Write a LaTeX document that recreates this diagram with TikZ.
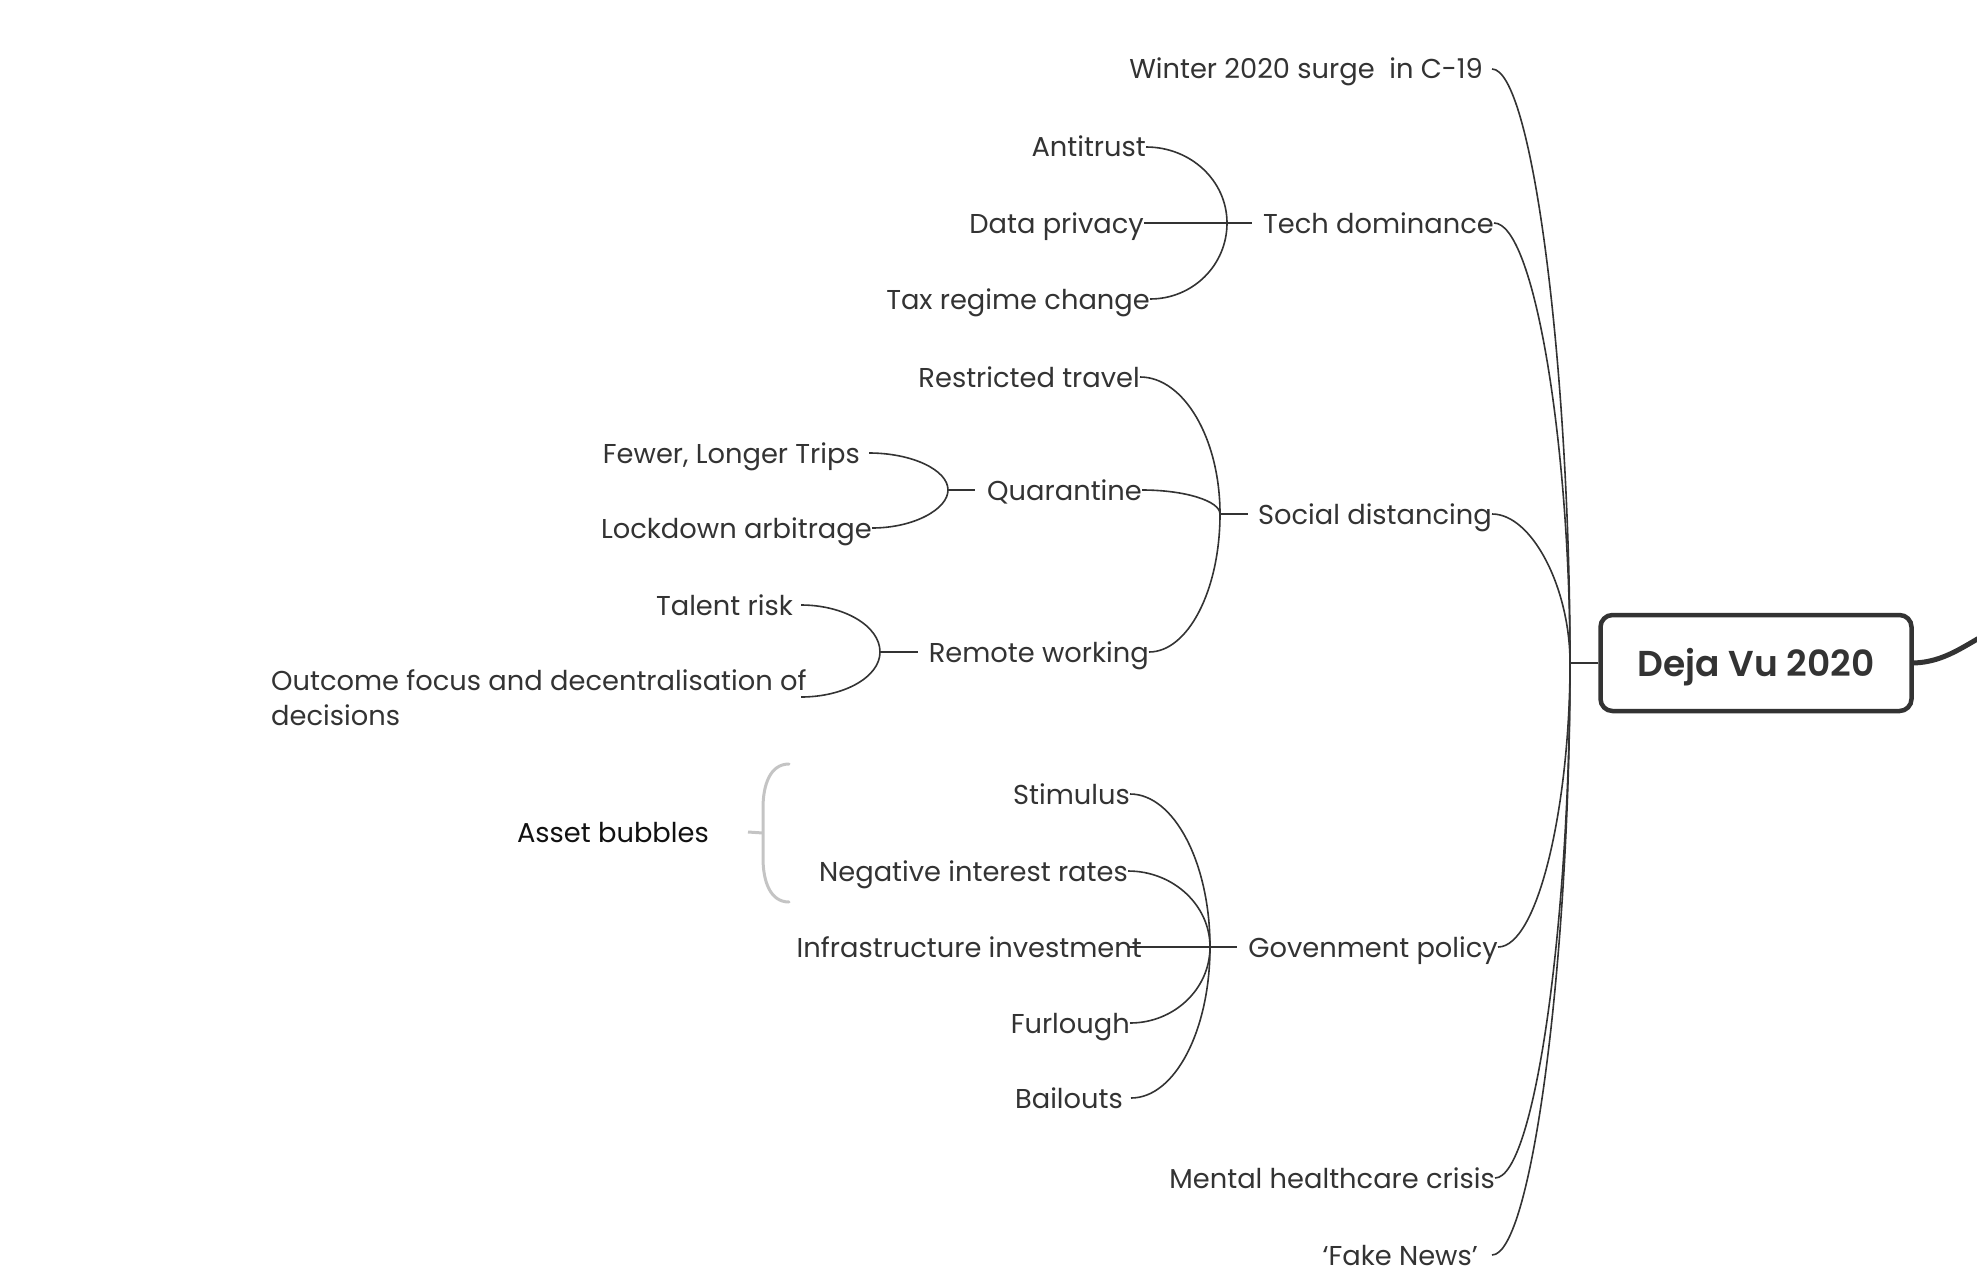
\documentclass[tikz,border=0pt]{standalone}
\usepackage{fontspec}
\setmainfont{Poppins}
\newfontfamily\rootfont{Poppins SemiBold}
\definecolor{ink}{HTML}{333333}
\definecolor{brk}{HTML}{C4C4C4}
\definecolor{dark}{HTML}{111111}
\begin{document}
\begin{tikzpicture}[x=1pt,y=-1pt,
  txt/.style={inner sep=0pt, text=ink, font=\fontsize{27.3}{35}\selectfont, text height=20pt, text depth=0pt, anchor=east},
  lnk/.style={draw=ink, line width=1.6pt},
]
\useasboundingbox (0,0) rectangle (1977,1287);
% root
\node[draw=ink, line width=4.5pt, rounded corners=12pt, minimum width=311pt, minimum height=96pt,
      text=ink, text height=26pt, text depth=0pt, font=\fontsize{36}{40}\rootfont] (root) at (1756,663) {Deja Vu 2020};
\coordinate (hub) at (1570,663);
\coordinate (tail) at (1990,632);
\draw[lnk] (root.west) -- (hub);
\draw[draw=ink, line width=5pt] (root.east) .. controls (1945,662) and (1965,645) .. (tail);

% level 1
\node[txt] (winter) at (1483,69) {Winter 2020 surge\ \ in C-19};
\node[txt] (tech) at (1494,223) {Tech dominance};
\node[txt] (social) at (1492,514) {Social distancing};
\node[txt] (gov) at (1498,947) {Govenment policy};
\node[txt] (mental) at (1495,1178) {Mental healthcare crisis};
\node[txt] (fake) at (1478,1255) {‘Fake News’};

\draw[lnk] (hub) .. controls (1570,366) and (1532,69) .. ([xshift=9pt]winter.east);
\draw[lnk] (hub) .. controls (1570,443) and (1534,223) .. (tech.east);
\draw[lnk] (hub) .. controls (1570,588) and (1532,514) .. (social.east);
\draw[lnk] (hub) .. controls (1570,805) and (1538,947) .. (gov.east);
\draw[lnk] (hub) .. controls (1570,920) and (1535,1178) .. (mental.east);
\draw[lnk] (hub) .. controls (1570,958) and (1532,1255) .. ([xshift=14pt]fake.east);

% tech group
\coordinate (tj) at (1227,223);
\node[txt] (anti) at (1146,147) {Antitrust};
\node[txt] (priv) at (1144,223) {Data privacy};
\node[txt] (tax) at (1150,299) {Tax regime change};
\draw[lnk] (tj) -- ([xshift=-11pt]tech.west);
\draw[lnk] (tj) .. controls (1227,181) and (1191,147) .. (anti.east);
\draw[lnk] (priv.east) -- (tj);
\draw[lnk] (tj) .. controls (1227,265) and (1193,299) .. (tax.east);

% social group
\coordinate (sj) at (1220,514);
\node[txt] (travel) at (1140,377) {Restricted travel};
\node[txt] (quar) at (1142,490) {Quarantine};
\node[txt] (remote) at (1149,652) {Remote working};
\draw[lnk] (sj) -- ([xshift=-10pt]social.west);
\draw[lnk] (sj) .. controls (1220,439) and (1184,377) .. (travel.east);
\draw[lnk] (sj) .. controls (1220,501) and (1185,490) .. (quar.east);
\draw[lnk] (sj) .. controls (1220,590) and (1188,652) .. (remote.east);

% quarantine group
\coordinate (qj) at (948,490);
\node[txt] (fewer) at (860,453) {Fewer, Longer Trips};
\node[txt] (lock) at (872,528) {Lockdown arbitrage};
\draw[lnk] (qj) -- ([xshift=-12pt]quar.west);
\draw[lnk] (qj) .. controls (948,470) and (912,453) .. ([xshift=9pt]fewer.east);
\draw[lnk] (qj) .. controls (948,509) and (914,528) .. (lock.east);

% remote group
\coordinate (rj) at (880,652);
\node[txt] (talent) at (793,605) {Talent risk};
\node[inner sep=0pt, text=ink, font=\fontsize{27.3}{35}\selectfont, align=left, anchor=base west] (outcome) at (271,725) {Outcome focus and decentralisation of\\decisions};
\coordinate (oend) at (801,697);
\draw[lnk] (rj) -- ([xshift=-11pt]remote.west);
\draw[lnk] (rj) .. controls (880,626) and (844,605) .. ([xshift=8pt]talent.east);
\draw[lnk] (rj) .. controls (880,677) and (844,697) .. (oend);

% government group
\coordinate (gj) at (1210,947);
\node[txt] (stim) at (1130,794) {Stimulus};
\node[txt] (negint) at (1128,871) {Negative interest rates};
\node[txt] (infra) at (1142,947) {Infrastructure investment};
\node[txt] (furl) at (1130,1023) {Furlough};
\node[txt] (bail) at (1123,1098) {Bailouts};
\draw[lnk] (gj) -- ([xshift=-11pt]gov.west);
\draw[lnk] (gj) .. controls (1210,863) and (1174,794) .. (stim.east);
\draw[lnk] (gj) .. controls (1210,905) and (1173,871) .. (negint.east);
\draw[lnk] ([xshift=-14pt]infra.east) -- (gj);
\draw[lnk] (gj) .. controls (1210,989) and (1174,1023) .. (furl.east);
\draw[lnk] (gj) .. controls (1210,1030) and (1175,1098) .. ([xshift=8pt]bail.east);

% asset bubbles summary
\node[txt, text=dark] (assets) at (709,832) {Asset bubbles};
\coordinate (bk) at (763,833);
\draw[draw=brk, line width=3pt] ([xshift=39pt]assets.east) -- (bk);
\draw[draw=brk, line width=3pt, line cap=round] (789,764) .. controls (770,764) and (763,785) .. (763,808) -- (763,858) .. controls (763,881) and (770,902) .. (789,902);
\end{tikzpicture}
\end{document}
